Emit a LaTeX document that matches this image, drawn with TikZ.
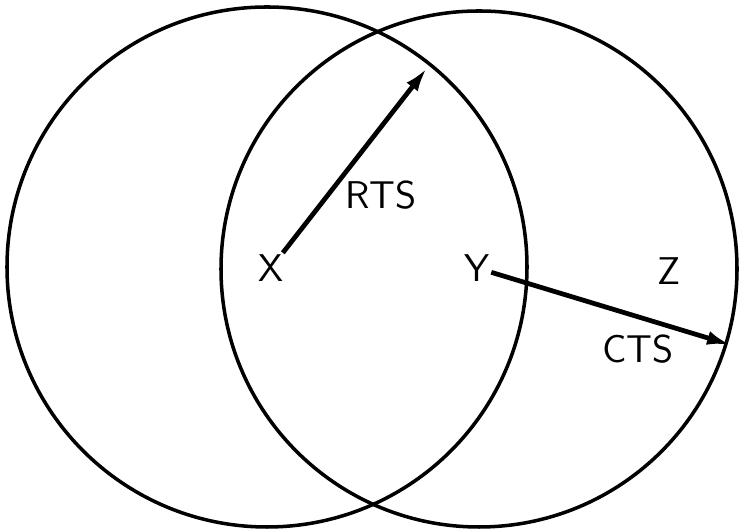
\documentclass[tikz,border=0pt]{standalone}
\usepackage{tikz}
\usetikzlibrary{arrows.meta,positioning,calc}

\begin{document}
\begin{tikzpicture}[x=0.01cm, y=-0.01cm, font=\sffamily\fontsize{11}{13}\selectfont,
    ring/.style={line width=1pt},
    vec/.style={line width=1.35pt, -{Latex[length=2.4mm, width=1.4mm]}},
    lbl/.style={inner sep=0.3pt}]
  \useasboundingbox (0,0) rectangle (739,531);
  % the two regions
  \coordinate (cx) at (267,267);
  \coordinate (cy) at (479,269);
  \draw[ring] (cx) circle (260);
  \draw[ring] (cy) circle (258);
  % points and labels
  \node[lbl] (x) at (271,268) {X};
  \node[lbl] (y) at (477,268) {Y};
  \node[lbl] (z) at (669,271) {Z};
  \node[lbl] (rts) at (381,195) {RTS};
  \node[lbl] (cts) at (638,349) {CTS};
  \coordinate (rtsend) at (427,68);
  \coordinate (ctsend) at (731,345);
  \draw[vec] (x) -- (rtsend);
  \draw[vec] (y) -- (ctsend);
\end{tikzpicture}
\end{document}
